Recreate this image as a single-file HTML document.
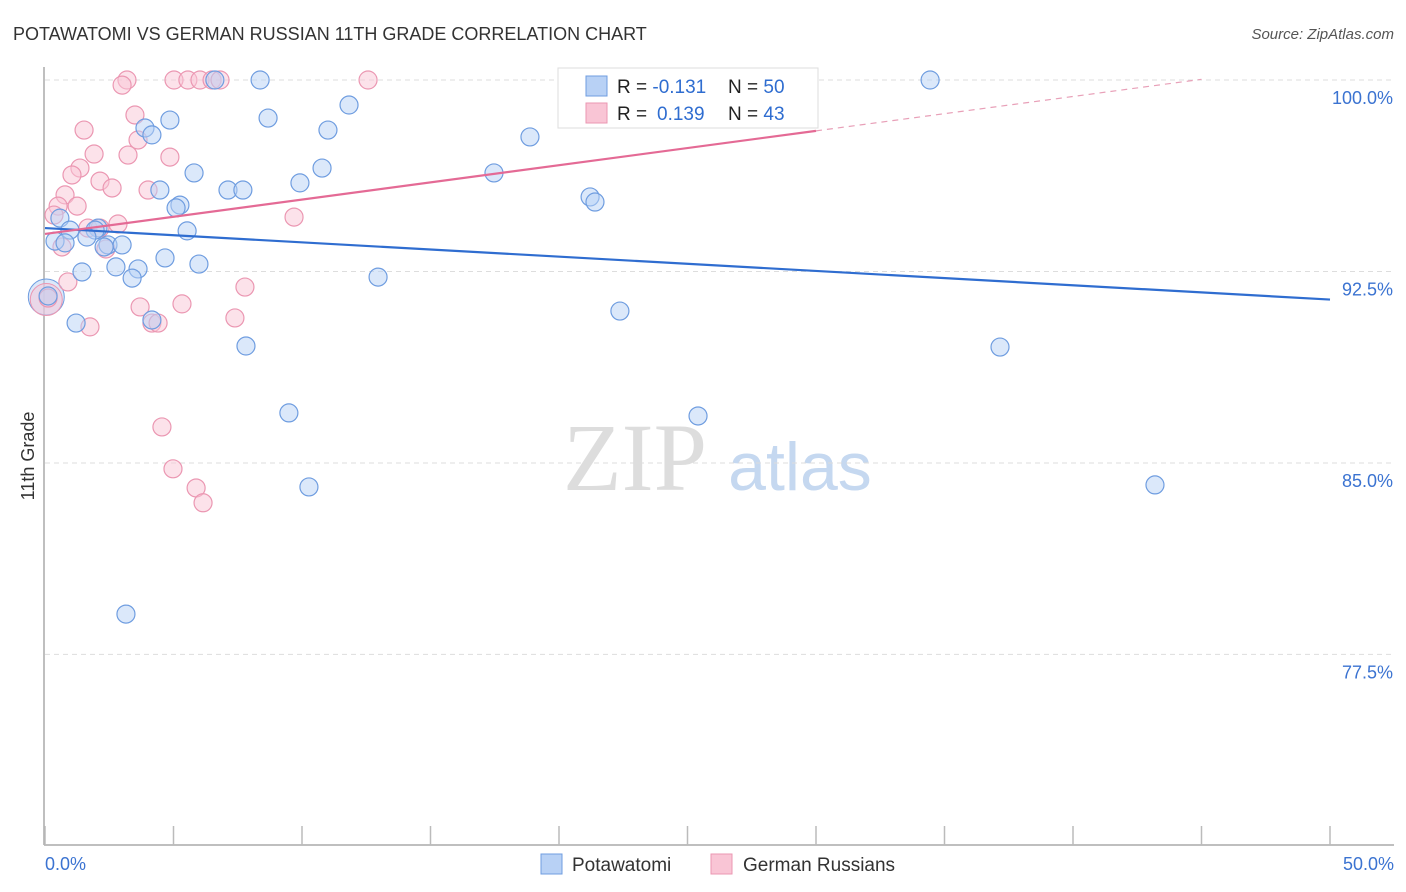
<!DOCTYPE html>
<html><head><meta charset="utf-8"><style>
body{margin:0;background:#fff;font-family:"Liberation Sans",sans-serif;}
svg{display:block}
</style></head><body>
<svg id="chart" width="1406" height="892" xmlns="http://www.w3.org/2000/svg">
<text x="13" y="40" font-size="18" fill="#333">POTAWATOMI VS GERMAN RUSSIAN 11TH GRADE CORRELATION CHART</text>
<text x="1394" y="39" font-size="15" fill="#555" font-style="italic" text-anchor="end">Source: ZipAtlas.com</text>
<text transform="translate(34,456) rotate(-90)" font-size="18" fill="#333" text-anchor="middle">11th Grade</text>
<g>
<text x="635" y="490" font-size="96" font-family="Liberation Serif,serif" fill="#ddd" text-anchor="middle">ZIP</text>
<text x="800" y="490" font-size="68" fill="#c5d8f0" text-anchor="middle">atlas</text>
</g>
<g id="grid"></g>
<g id="axes"></g>
<g id="pts"></g>
<g id="lines"></g>
<g>
<rect x="558" y="68" width="260" height="60" fill="#fff" stroke="#ddd"/>
<rect x="586" y="76" width="21" height="20" fill="#b8d1f5" stroke="#6f9de0"/>
<rect x="586" y="103" width="21" height="20" fill="#f9c5d5" stroke="#eb97b2"/>
<text x="617" y="93" font-size="19" fill="#222">R = <tspan fill="#2f6dd0">-0.131</tspan><tspan x="728">N = </tspan><tspan fill="#2f6dd0">50</tspan></text>
<text x="617" y="120" font-size="19" fill="#222">R = <tspan fill="#2f6dd0" x="657">0.139</tspan><tspan x="728">N = </tspan><tspan fill="#2f6dd0">43</tspan></text>
</g>
<g>
<rect x="541" y="854" width="21" height="20" fill="#b8d1f5" stroke="#6f9de0"/>
<text x="572" y="871" font-size="19" fill="#333">Potawatomi</text>
<rect x="711" y="854" width="21" height="20" fill="#f9c5d5" stroke="#eb97b2"/>
<text x="743" y="871" font-size="19" fill="#333">German Russians</text>
</g>
</svg>
<script>
const yTicks=[100,92.5,85,77.5];
const yTickLabels=["100.0%","92.5%","85.0%","77.5%"];
const xTickLabels=["0.0%","50.0%"];
const blueX=[6.61,8.37,34.44,11.83,4.86,8.68,3.89,4.16,11.01,18.87,10.78,5.80,17.47,4.47,7.12,7.70,9.92,21.21,21.40,5.25,5.10,0.58,5.53,0.97,2.06,1.95,1.63,0.39,0.78,2.45,3.00,2.30,4.67,5.99,2.76,3.62,1.44,3.39,12.96,0.12,22.37,1.21,4.16,7.82,37.16,9.49,25.41,10.27,43.19,3.15];
const blueY=[100,100,100,99.02,98.43,98.51,98.12,97.85,98.04,97.77,96.55,96.36,96.36,95.69,95.69,95.69,95.97,95.42,95.22,95.10,94.99,94.59,94.09,94.12,94.20,94.12,93.85,93.69,93.62,93.54,93.54,93.46,93.03,92.79,92.68,92.60,92.48,92.24,92.28,91.54,90.95,90.48,90.60,89.58,89.54,86.96,86.84,84.06,84.14,79.08];
const pinkX=[3.19,5.02,5.56,6.03,6.50,12.57,27.82,3.00,3.50,1.52,3.62,1.91,3.23,4.86,1.36,1.05,2.14,2.61,0.78,4.01,0.51,1.25,0.35,9.69,2.84,1.67,2.14,0.66,2.37,0.89,7.78,3.70,5.33,7.39,4.16,4.40,1.75,4.55,4.98,5.88,6.15,0.12,6.81];
const pinkY=[100,100,100,100,100,100,100,99.80,98.63,98.04,97.65,97.10,97.06,96.98,96.55,96.28,96.04,95.77,95.50,95.69,95.06,95.06,94.71,94.63,94.36,94.20,94.20,93.46,93.38,92.09,91.89,91.11,91.23,90.68,90.48,90.48,90.33,86.41,84.77,84.02,83.44,91.46,100];
const blueTrend=[94.2,91.4];
const pinkTrend=[93.97,100.7];
const NS="http://www.w3.org/2000/svg";
const sx=v=>45+v*25.7, sy=v=>80+(100-v)*25.53;
function mk(tag,attrs,parent){const e=document.createElementNS(NS,tag);for(const k in attrs)e.setAttribute(k,attrs[k]);document.getElementById(parent).appendChild(e);return e;}
yTicks.forEach((t,i)=>{
 const g=mk('line',{x1:45,x2:1394,y1:sy(t),y2:sy(t),stroke:'#ddd','stroke-dasharray':'5,4'},'grid');
 
 
 const l=mk('text',{x:1393,y:sy(t)+24,'font-size':18,fill:'#3b73d1','text-anchor':'end'},'grid');
 l.textContent=yTickLabels[i];
 
 
});
const ax=mk('line',{x1:44,x2:44,y1:67,y2:845,stroke:'#aaa','stroke-width':1.5},'axes');


const bx=mk('line',{x1:44,x2:1394,y1:845,y2:845,stroke:'#aaa','stroke-width':1.5},'axes');


for(let i=0;i<=10;i++){const t=mk('line',{x1:sx(i*5),x2:sx(i*5),y1:826,y2:845,stroke:'#bbb','stroke-width':1.5},'axes');
 
 }
[[0,'start',45],[50,'end',1394]].forEach((d,i)=>{const t=mk('text',{x:d[2],y:870,'font-size':18,fill:'#3b73d1','text-anchor':d[1]},'axes');t.textContent=xTickLabels[i];
 
 });
function dots(X,Y,fill,stroke,name){X.forEach((x,i)=>{const c=mk('circle',{cx:sx(x),cy:sy(Y[i]),r:9,fill:fill,'fill-opacity':0.5,stroke:stroke,'stroke-width':1.2},'pts');
 
 });}
const big1=mk('circle',{cx:sx(0.05),cy:sy(91.5),r:18,fill:'#b8d1f5','fill-opacity':0.5,stroke:'#6f9de0'},'pts');


const big2=mk('circle',{cx:sx(0.05),cy:sy(91.4),r:16,fill:'#f9c5d5','fill-opacity':0.5,stroke:'#eb97b2'},'pts');


dots(pinkX,pinkY,'#f9c5d5','#eb97b2','point-german-russians');
dots(blueX,blueY,'#b8d1f5','#6f9de0','point-potawatomi');
const bl=mk('line',{x1:sx(0),y1:sy(blueTrend[0]),x2:sx(50),y2:sy(blueTrend[1]),stroke:'#2f6dd0','stroke-width':2.2},'lines');


const pAt=x=>pinkTrend[0]+(pinkTrend[1]-pinkTrend[0])*x/50;
const pl=mk('line',{x1:sx(0),y1:sy(pAt(0)),x2:sx(30),y2:sy(pAt(30)),stroke:'#e46a95','stroke-width':2.2},'lines');


const pd=mk('line',{x1:sx(30),y1:sy(pAt(30)),x2:sx(45),y2:sy(pAt(45)),stroke:'#e8a0b8','stroke-width':1.2,'stroke-dasharray':'6,5'},'lines');


</script>
</body></html>
